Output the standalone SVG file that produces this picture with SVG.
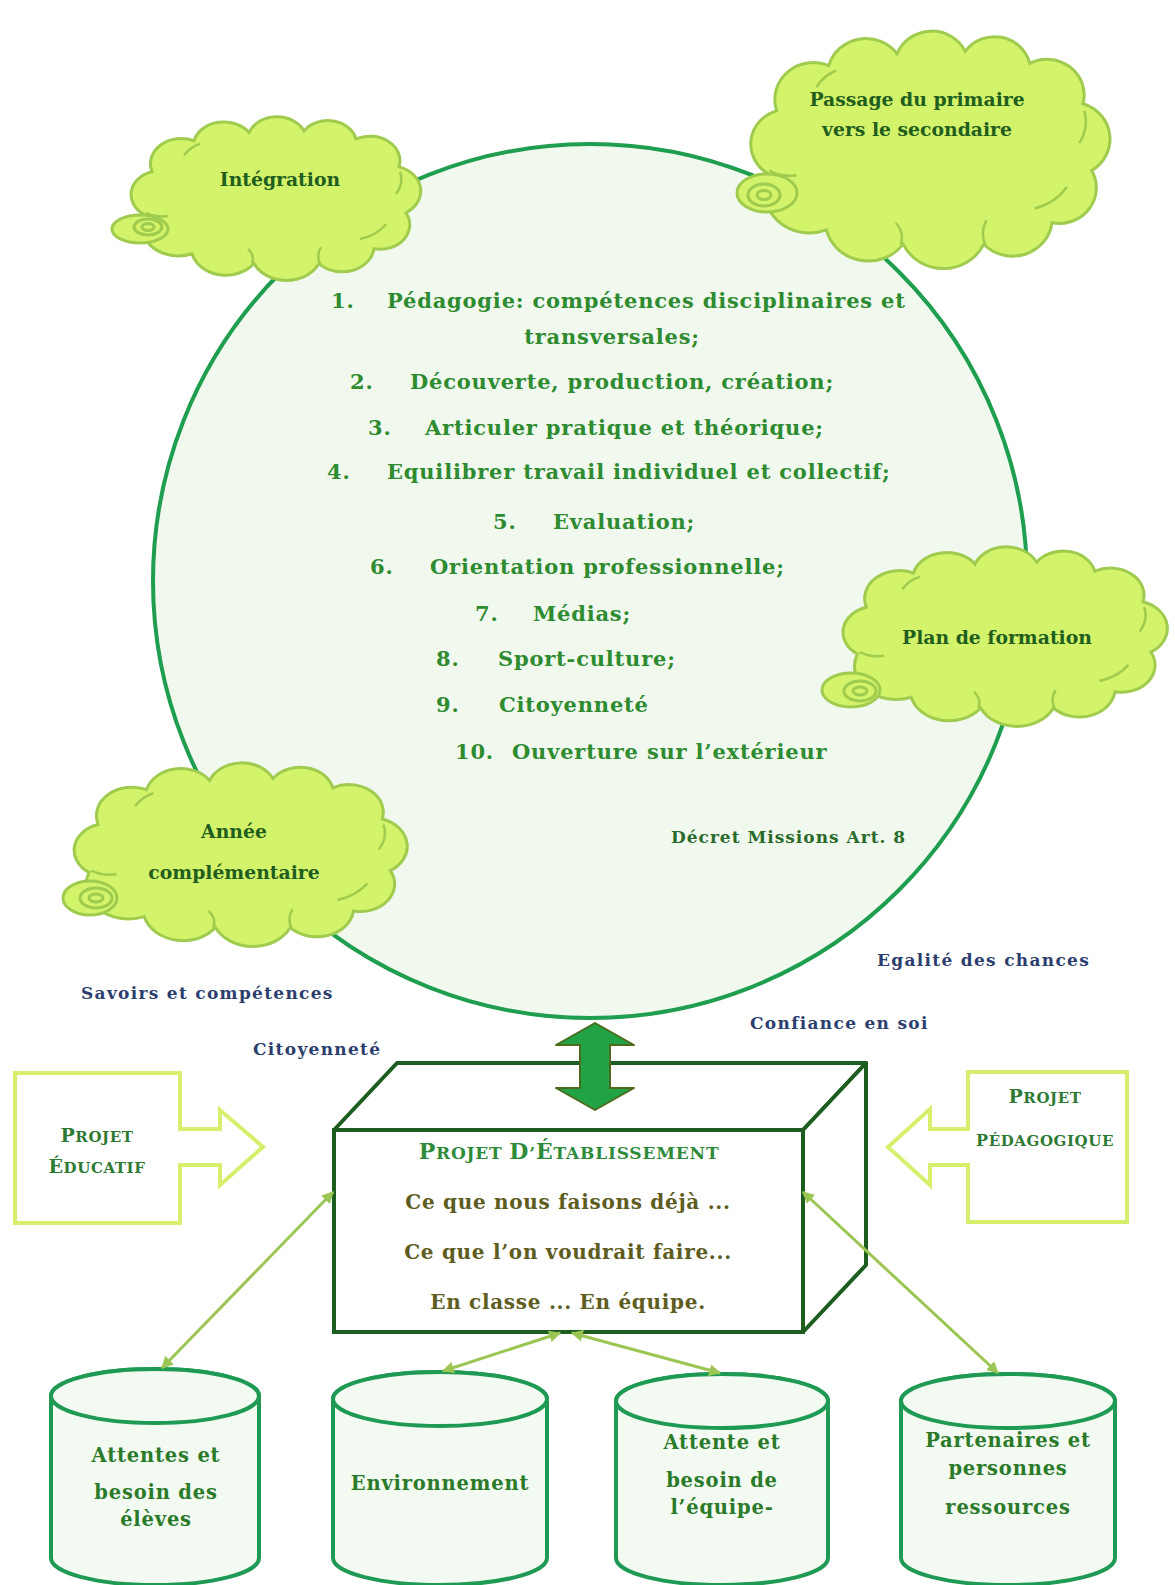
<svg xmlns="http://www.w3.org/2000/svg" width="1175" height="1585" viewBox="0 0 1175 1585">
<style>
.t{font-family:"DejaVu Serif","Liberation Serif",serif;font-weight:bold}
.cl{font-size:18.8px;fill:#1f5e1c;text-anchor:middle}
.li{font-size:21px;fill:#2e8b30;letter-spacing:0.8px}
.bl{font-size:17px;fill:#2c3e6e;letter-spacing:1.3px}
.bx{font-size:20px;fill:#5e5c1e;text-anchor:middle;letter-spacing:0.7px}
.cy{font-size:19.5px;fill:#2a7a2a;text-anchor:middle;letter-spacing:0.8px}
.sc{fill:#2e7a34;text-anchor:middle;letter-spacing:0.6px}
.cloud{fill:#d3f36b;stroke:#9fcb4f;stroke-width:3;vector-effect:non-scaling-stroke}
.inner{fill:none;stroke:#9fcb4f;stroke-width:2.5;vector-effect:non-scaling-stroke}
.tail{fill:#d3f36b;stroke:#9fcb4f;stroke-width:3}
.ring{fill:none;stroke:#9fcb4f;stroke-width:3}
.cyl{fill:#f3faf1;stroke:#1f9a55;stroke-width:4}
.side{fill:#fff;stroke:#d6f06e;stroke-width:4}
.conn{stroke:#9cc654;stroke-width:3;fill:none;marker-start:url(#ah);marker-end:url(#ah)}
</style>
<defs>
<marker id="ah" viewBox="0 0 10 10" refX="9" refY="5" markerWidth="4" markerHeight="4" orient="auto-start-reverse"><path d="M0,0 L10,5 L0,10 z" fill="#9cc654"/></marker>
<g id="cloudShape">
<path class="cloud" d="M20,120 A29,29 0 0 1 28,68 A31,31 0 0 1 70,30 A31,31 0 0 1 125,20 A30,30 0 0 1 180,18 A29,29 0 0 1 232,28 A30,30 0 0 1 275,62 A31,31 0 0 1 282,118 A30,30 0 0 1 250,162 A32,32 0 0 1 195,180 A36,36 0 0 1 130,180 A35,35 0 0 1 68,168 A37,37 0 0 1 20,120 Z"/>
<path class="inner" d="M60,48 Q66,38 76,34 M272,95 Q280,82 276,68 M236,150 Q252,146 262,132 M196,180 Q192,170 197,160 M128,180 Q131,170 124,162 M22,118 Q32,124 44,122"/>
</g>
</defs>
<rect width="1175" height="1585" fill="#fff"/>

<g id="circle-missions">
<circle cx="590" cy="581" r="437" fill="#f1f9ef" stroke="#1f9e50" stroke-width="4"/>
<text class="t li"><tspan x="331" y="308">1.</tspan><tspan x="387" y="308">Pédagogie: compétences disciplinaires et</tspan></text>
<text class="t li" x="612" y="344" text-anchor="middle" letter-spacing="0">transversales;</text>
<text class="t li"><tspan x="350" y="389">2.</tspan><tspan x="410" y="389">Découverte, production, création;</tspan></text>
<text class="t li"><tspan x="368" y="435">3.</tspan><tspan x="425" y="435">Articuler pratique et théorique;</tspan></text>
<text class="t li"><tspan x="327" y="479">4.</tspan><tspan x="387" y="479">Equilibrer travail individuel et collectif;</tspan></text>
<text class="t li"><tspan x="493" y="529">5.</tspan><tspan x="553" y="529">Evaluation;</tspan></text>
<text class="t li"><tspan x="370" y="574">6.</tspan><tspan x="430" y="574">Orientation professionnelle;</tspan></text>
<text class="t li"><tspan x="475" y="621">7.</tspan><tspan x="533" y="621">Médias;</tspan></text>
<text class="t li"><tspan x="436" y="666">8.</tspan><tspan x="498" y="666">Sport-culture;</tspan></text>
<text class="t li"><tspan x="436" y="712">9.</tspan><tspan x="499" y="712">Citoyenneté</tspan></text>
<text class="t li"><tspan x="455" y="759">10.</tspan><tspan x="512" y="759">Ouverture sur l’extérieur</tspan></text>
<text class="t" x="671" y="843" font-size="17" fill="#2a6a2a" letter-spacing="1">Décret Missions Art. 8</text>
</g>

<g id="cloud-integration">
<use href="#cloudShape" transform="translate(124,116) scale(1.0,0.82)"/>
<ellipse class="tail" cx="140" cy="229" rx="28" ry="14"/>
<ellipse class="ring" cx="148" cy="227" rx="14" ry="8"/>
<ellipse class="ring" cx="148" cy="227" rx="6" ry="3.5"/>
<text class="t cl" x="280" y="186">Intégration</text>
</g>

<g id="cloud-passage">
<use href="#cloudShape" transform="translate(742,30) scale(1.24,1.19)"/>
<ellipse class="tail" cx="767" cy="193" rx="30" ry="19"/>
<ellipse class="ring" cx="764" cy="195" rx="16" ry="11"/>
<ellipse class="ring" cx="764" cy="195" rx="7" ry="4.5"/>
<text class="t cl" x="917" y="106">Passage du primaire</text>
<text class="t cl" x="917" y="136">vers le secondaire</text>
</g>

<g id="cloud-plan">
<use href="#cloudShape" transform="translate(835,546) scale(1.12,0.9)"/>
<ellipse class="tail" cx="851" cy="690" rx="29" ry="17"/>
<ellipse class="ring" cx="860" cy="691" rx="16" ry="10"/>
<ellipse class="ring" cx="860" cy="691" rx="7" ry="4"/>
<text class="t cl" x="997" y="644">Plan de formation</text>
</g>

<g id="cloud-annee">
<use href="#cloudShape" transform="translate(66,762) scale(1.15,0.92)"/>
<ellipse class="tail" cx="90" cy="898" rx="27" ry="17"/>
<ellipse class="ring" cx="96" cy="898" rx="16" ry="10"/>
<ellipse class="ring" cx="96" cy="898" rx="7" ry="4"/>
<text class="t cl" x="234" y="838">Année</text>
<text class="t cl" x="234" y="879">complémentaire</text>
</g>

<g id="labels">
<text class="t bl" x="81" y="999">Savoirs et compétences</text>
<text class="t bl" x="877" y="966">Egalité des chances</text>
<text class="t bl" x="750" y="1029">Confiance en soi</text>
<text class="t bl" x="253" y="1055">Citoyenneté</text>
</g>

<g id="projet-educatif">
<path class="side" d="M15,1073 H180 V1129 H220 V1110 L263,1147 L220,1185 V1165 H180 V1223 H15 Z"/>
<text class="t sc" x="97" y="1142"><tspan font-size="19">P</tspan><tspan font-size="15">ROJET</tspan></text>
<text class="t sc" x="97" y="1173"><tspan font-size="19">É</tspan><tspan font-size="15">DUCATIF</tspan></text>
</g>

<g id="projet-pedagogique">
<path class="side" d="M1127,1072 H968 V1129 H930 V1109 L888,1147 L930,1185 V1165 H968 V1222 H1127 Z"/>
<text class="t sc" x="1045" y="1103"><tspan font-size="19">P</tspan><tspan font-size="15">ROJET</tspan></text>
<text class="t sc" x="1045" y="1146"><tspan font-size="16">P</tspan><tspan font-size="15">ÉDAGOGIQUE</tspan></text>
</g>

<g id="projet-etablissement">
<path d="M334,1130 L397,1063 L866,1063 L803,1130 Z" fill="#fff" stroke="#1d5e20" stroke-width="4" stroke-linejoin="round"/>
<path d="M803,1130 L866,1063 L866,1265 L803,1332 Z" fill="#fff" stroke="#1d5e20" stroke-width="4" stroke-linejoin="round"/>
<rect x="334" y="1130" width="469" height="202" fill="#fff" stroke="#1d5e20" stroke-width="4"/>
<text class="t sc" x="569" y="1159" style="fill:#2e8b3a;letter-spacing:0.8px"><tspan font-size="22">P</tspan><tspan font-size="17">ROJET </tspan><tspan font-size="22">D</tspan><tspan font-size="17">’</tspan><tspan font-size="22">É</tspan><tspan font-size="17">TABLISSEMENT</tspan></text>
<text class="t bx" x="568" y="1209">Ce que nous faisons déjà ...</text>
<text class="t bx" x="568" y="1259">Ce que l’on voudrait faire...</text>
<text class="t bx" x="568" y="1309">En classe ... En équipe.</text>
</g>

<g id="cyl-eleves">
<path class="cyl" d="M51,1396 L51,1558 A104,27 0 0 0 259,1558 L259,1396 A104,27 0 0 0 51,1396 Z"/>
<ellipse class="cyl" cx="155" cy="1396" rx="104" ry="27"/>
<text class="t cy" x="156" y="1462">Attentes et</text>
<text class="t cy" x="156" y="1499">besoin des</text>
<text class="t cy" x="156" y="1526">élèves</text>
</g>

<g id="cyl-environnement">
<path class="cyl" d="M333,1399 L333,1558 A107,27 0 0 0 547,1558 L547,1399 A107,27 0 0 0 333,1399 Z"/>
<ellipse class="cyl" cx="440" cy="1399" rx="107" ry="27"/>
<text class="t cy" x="440" y="1490">Environnement</text>
</g>

<g id="cyl-equipe">
<path class="cyl" d="M616,1401 L616,1558 A106,27 0 0 0 828,1558 L828,1401 A106,27 0 0 0 616,1401 Z"/>
<ellipse class="cyl" cx="722" cy="1401" rx="106" ry="27"/>
<text class="t cy" x="722" y="1449">Attente et</text>
<text class="t cy" x="722" y="1487">besoin de</text>
<text class="t cy" x="722" y="1514">l’équipe-</text>
</g>

<g id="cyl-partenaires">
<path class="cyl" d="M901,1401 L901,1558 A107,27 0 0 0 1115,1558 L1115,1401 A107,27 0 0 0 901,1401 Z"/>
<ellipse class="cyl" cx="1008" cy="1401" rx="107" ry="27"/>
<text class="t cy" x="1008" y="1447">Partenaires et</text>
<text class="t cy" x="1008" y="1475">personnes</text>
<text class="t cy" x="1008" y="1514">ressources</text>
</g>

<g id="connectors">
<path d="M595,1023 L634,1045 L610,1045 L610,1088 L634,1088 L595,1110 L556,1088 L580,1088 L580,1045 L556,1045 Z" fill="#21a345" stroke="#4d6b1c" stroke-width="2" stroke-linejoin="round"/>
<line class="conn" x1="333" y1="1192" x2="162" y2="1368"/>
<line class="conn" x1="560" y1="1333" x2="443" y2="1371"/>
<line class="conn" x1="572" y1="1333" x2="720" y2="1373"/>
<line class="conn" x1="803" y1="1192" x2="998" y2="1373"/>
</g>
</svg>
